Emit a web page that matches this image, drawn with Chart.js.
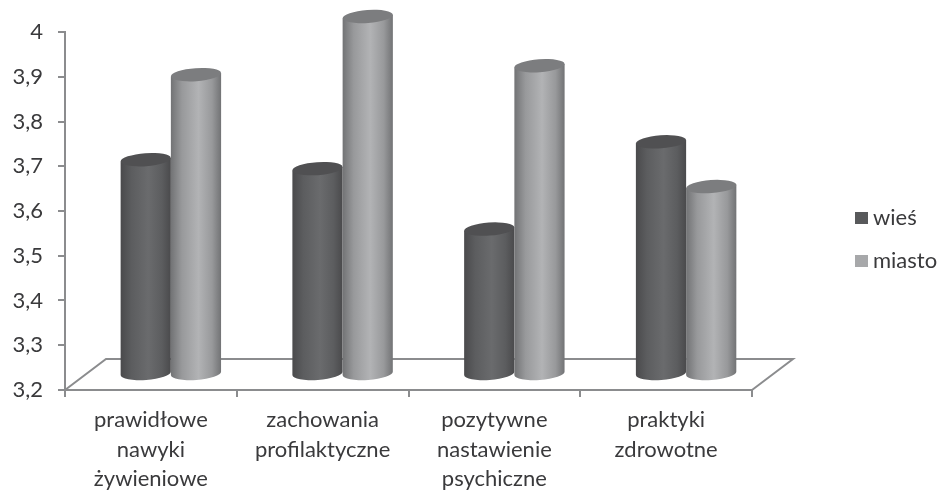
<!DOCTYPE html>
<html lang="pl">
<head>
<meta charset="utf-8">
<title>wieś / miasto</title>
<script src="https://cdn.jsdelivr.net/npm/chart.js@4/dist/chart.umd.min.js"></script>
<style>
  html, body { margin: 0; padding: 0; background: #fff; }
  #wrap { width: 942px; height: 496px; }
</style>
</head>
<body>
<div id="wrap"><canvas id="chart" width="942" height="496"></canvas></div>
<script>
// -----------------------------
// Data
// -----------------------------
const categories = [
  ["prawidłowe", "nawyki", "żywieniowe"],
  ["zachowania", "profilaktyczne"],
  ["pozytywne", "nastawienie", "psychiczne"],
  ["praktyki", "zdrowotne"]
];
const seriesNames = ["wieś", "miasto"];
const wiesValues = [3.68, 3.66, 3.525, 3.72];
const miastoValues = [3.87, 4.0, 3.89, 3.62];

// -----------------------------
// Look of the fake 3D
// -----------------------------
const FONT = "Lato, 'Open Sans', sans-serif";
const FONT_SIZE = 22;
const TEXT = "#3a3a3c";
const AXIS = "#8b8c8e";
const FLOOR_DX = 41;    // depth of the floor
const FLOOR_DY = 31;
const BAR_DX = 20;      // cylinders stand in the middle of the floor
const BAR_DY = 15.5;
const CAP_RY = 6.5;
const CAP_TILT = -0.07;

// -----------------------------
// Cylinder bar
// -----------------------------
class CylinderBar extends Chart.BarElement {
  draw(ctx) {
    const { x, y, base, width } = this.getProps(["x", "y", "base", "width"]);
    const o = this.options;
    const rx = width / 2;
    const cx = x + BAR_DX;
    const top = y - BAR_DY;
    const bottom = base - BAR_DY;

    const grad = ctx.createLinearGradient(cx - rx, 0, cx + rx, 0);
    grad.addColorStop(0, o.edgeColor);
    grad.addColorStop(0.22, o.sideColor);
    grad.addColorStop(0.55, o.backgroundColor);
    grad.addColorStop(0.82, o.sideColor);
    grad.addColorStop(1, o.edgeColor);

    const lift = rx * Math.sin(CAP_TILT);

    ctx.save();
    // body with the rounded foot
    ctx.beginPath();
    ctx.moveTo(cx - rx, top - lift);
    ctx.lineTo(cx - rx, bottom - lift);
    ctx.ellipse(cx, bottom, rx, CAP_RY, CAP_TILT, Math.PI, 0, true);
    ctx.lineTo(cx + rx, top + lift);
    ctx.closePath();
    ctx.fillStyle = grad;
    ctx.fill();
    // flat top
    ctx.beginPath();
    ctx.ellipse(cx, top, rx, CAP_RY, CAP_TILT, 0, Math.PI * 2);
    ctx.fillStyle = o.capColor;
    ctx.fill();
    ctx.restore();
  }
}
CylinderBar.id = "cylinderBar";
CylinderBar.defaults = {
  ...Chart.BarElement.defaults,
  edgeColor: "#555",
  sideColor: "#777",
  capColor: "#666"
};

// Bars are painted by the plugin below: each series has to sit over the one before it
class CylinderController extends Chart.BarController {
  draw() {}
}
CylinderController.id = "cylinder";
CylinderController.defaults = { ...Chart.BarController.defaults, dataElementType: "cylinderBar" };
CylinderController.overrides = Chart.BarController.overrides;

Chart.register(CylinderBar, CylinderController);

const cylinderPainter = {
  id: "cylinderPainter",
  afterDatasetsDraw(chart) {
    chart.data.datasets.forEach((ds, i) => {
      chart.getDatasetMeta(i).data.forEach(el => el.draw(chart.ctx));
    });
  }
};

// -----------------------------
// Floor under the bars
// -----------------------------
const floorPlugin = {
  id: "floor",
  beforeDatasetsDraw(chart) {
    const { ctx, chartArea: a } = chart;
    ctx.save();
    ctx.strokeStyle = AXIS;
    ctx.lineWidth = 2;
    ctx.lineJoin = "miter";
    ctx.beginPath();
    ctx.moveTo(a.left, a.bottom);
    ctx.lineTo(a.left + FLOOR_DX, a.bottom - FLOOR_DY);
    ctx.lineTo(a.right + FLOOR_DX, a.bottom - FLOOR_DY);
    ctx.lineTo(a.right, a.bottom);
    ctx.stroke();
    ctx.restore();
  }
};

// -----------------------------
// Legend on the right
// -----------------------------
const sideLegend = {
  id: "sideLegend",
  afterDraw(chart) {
    const { ctx } = chart;
    const rows = [218, 261];
    ctx.save();
    ctx.font = FONT_SIZE + "px " + FONT;
    ctx.textBaseline = "middle";
    chart.data.datasets.forEach((ds, i) => {
      ctx.fillStyle = ds.legendColor;
      ctx.fillRect(855, rows[i] - 6, 13, 12);
      ctx.fillStyle = TEXT;
      ctx.fillText(ds.label, 873, rows[i]);
    });
    ctx.restore();
  }
};

// -----------------------------
// Chart
// -----------------------------
new Chart(document.getElementById("chart"), {
  type: "cylinder",
  data: {
    labels: categories,
    datasets: [
      {
        label: seriesNames[0],
        data: wiesValues,
        base: 3.2,
        backgroundColor: "#6a6b6d",
        sideColor: "#5c5d5f",
        edgeColor: "#4a4a4c",
        capColor: "#505052",
        legendColor: "#58595b"
      },
      {
        label: seriesNames[1],
        data: miastoValues,
        base: 3.2,
        backgroundColor: "#b2b3b5",
        sideColor: "#98999b",
        edgeColor: "#727375",
        capColor: "#7c7d7f",
        legendColor: "#a7a8aa"
      }
    ]
  },
  options: {
    responsive: false,
    animation: false,
    datasets: { cylinder: { categoryPercentage: 0.585, barPercentage: 1 } },
    layout: { padding: { top: 32, right: 190, left: 0, bottom: 0 } },
    plugins: {
      legend: { display: false },
      tooltip: { enabled: false }
    },
    scales: {
      x: {
        afterFit(scale) { scale.height = 106; },
        grid: { offset: true, drawOnChartArea: false, color: AXIS, lineWidth: 2, tickLength: 7 },
        border: { color: AXIS, width: 2 },
        ticks: {
          color: TEXT,
          padding: 8,
          maxRotation: 0,
          autoSkip: false,
          font: { family: FONT, size: FONT_SIZE, lineHeight: 1.35 }
        }
      },
      y: {
        min: 3.2,
        max: 4,
        afterFit(scale) { scale.width = 65; },
        grid: { drawOnChartArea: false, color: AXIS, lineWidth: 2, tickLength: 7 },
        border: { color: AXIS, width: 2 },
        ticks: {
          stepSize: 0.1,
          color: TEXT,
          padding: 15,
          font: { family: FONT, size: FONT_SIZE },
          callback: v => Number(v.toFixed(1)).toString().replace(".", ",")
        }
      }
    }
  },
  plugins: [floorPlugin, cylinderPainter, sideLegend]
});
</script>
</body>
</html>
